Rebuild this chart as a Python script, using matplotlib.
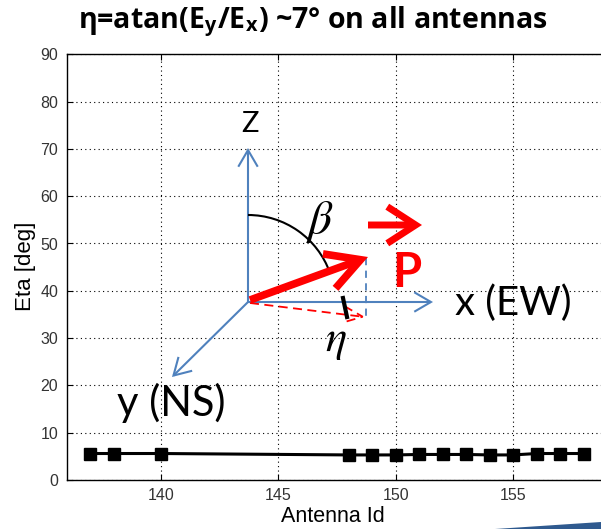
import matplotlib
matplotlib.use("Agg")
import matplotlib.pyplot as plt
from matplotlib.patches import Arc, FancyArrowPatch, Polygon
from matplotlib.transforms import Affine2D

plt.rcParams["mathtext.fontset"] = "stix"

# antenna ids and measured eta angle
antenna_id = [137, 138, 140, 148, 149, 150, 151, 152, 153, 154, 155, 156, 157, 158]
eta_deg = [5.6, 5.6, 5.6, 5.3, 5.3, 5.3, 5.4, 5.4, 5.4, 5.3, 5.3, 5.6, 5.6, 5.6]

x_ticks = [140, 145, 150, 155]
y_ticks = [0, 10, 20, 30, 40, 50, 60, 70, 80, 90]

W, H = 601, 529
fig = plt.figure(figsize=(W / 100, H / 100), dpi=100)

# axes run past the right edge of the figure
left, top, bottom = 66.7, 54.3, 480.0
right = left + 24 * 23.5
ax = fig.add_axes([left / W, 1 - bottom / H, (right - left) / W, (bottom - top) / H])

ax.plot(antenna_id, eta_deg, color="black", lw=2.2,
        marker="s", markersize=9, markerfacecolor="black", markeredgecolor="black")

ax.set_xlim(136, 160)
ax.set_ylim(0, 90)
ax.set_xticks(x_ticks)
ax.set_yticks(y_ticks)
ax.grid(True, color="black", linestyle=(0, (1, 3)), lw=0.8)
ax.tick_params(direction="in", length=4, top=True, right=True,
               labelsize=11.5, labelcolor="#333333", pad=6)
for lab in ax.get_xticklabels() + ax.get_yticklabels():
    lab.set_family(["Liberation Sans", "DejaVu Sans"])
for s in ax.spines.values():
    s.set_linewidth(1.0)

fig.text(333 / W, 1 - 517 / H, "Antenna Id", ha="center", va="center",
         fontsize=15.5, family="Liberation Sans")
fig.text(25 / W, 1 - 266 / H, "Eta [deg]", ha="center", va="center",
         rotation=90, fontsize=16, family="Liberation Sans")

fig.text(313 / W, 1 - 22 / H,
         r"η=atan(E$_\mathregular{y}$/E$_\mathregular{x}$) ~7° on all antennas",
         ha="center", va="center", fontsize=20.5, fontweight="bold",
         family=["Open Sans", "DejaVu Sans"])

# sketch of the polarisation geometry, in pixel units from the top-left
px = Affine2D().scale(1 / W, -1 / H).translate(0, 1) + fig.transFigure
blue = "#4f81bd"
red = "#ff0000"


def arrow(p0, p1, color, lw, style, ls="-", ms=20):
    a = FancyArrowPatch(p0, p1, transform=px, arrowstyle=style, color=color,
                        lw=lw, linestyle=ls, mutation_scale=ms,
                        shrinkA=0, shrinkB=0, joinstyle="miter", capstyle="butt")
    fig.add_artist(a)


origin = (248, 302)
arrow(origin, (248, 148), blue, 1.5, "->,head_length=0.6,head_width=0.35")
arrow(origin, (433, 302), blue, 1.5, "->,head_length=0.6,head_width=0.35")
arrow(origin, (172, 377), blue, 1.5, "->,head_length=0.6,head_width=0.35")

fig.add_artist(Arc(origin, 174, 174, theta1=-90, theta2=-20, transform=px,
                   color="black", lw=1.5))

arrow((366, 258), (366, 318), blue, 1.3, "-", ls=(0, (4, 3)))
arrow((250, 303), (365, 317), red, 1.3, "->,head_length=0.7,head_width=0.3", ls=(0, (5, 3)))
arrow((250, 300), (368, 257), red, 5.5, "->,head_length=1.0,head_width=0.55", ms=24)
arrow((368, 225), (422, 225), red, 5, "->,head_length=0.85,head_width=0.55", ms=24)

fig.add_artist(plt.Line2D([343, 347], [298, 317], transform=px, color="black", lw=3))

fig.text(250, 124, "Z", transform=px, ha="center", va="center",
         fontsize=21, family="Lato")
fig.text(320, 222, r"$\beta$", transform=px, ha="center", va="center", fontsize=34)
fig.text(336, 340, r"$\eta$", transform=px, ha="center", va="center", fontsize=32)
fig.text(407, 273, "P", transform=px, ha="center", va="center",
         fontsize=34, fontweight="bold", color=red, family="Lato")
fig.text(513, 303, "x (EW)", transform=px, ha="center", va="center",
         fontsize=29, family="Lato")
fig.text(171, 403, "y (NS)", transform=px, ha="center", va="center",
         fontsize=30, family="Lato")

# slide decoration at the bottom right
fig.add_artist(Polygon([(495, 529), (601, 522), (601, 529)], closed=True,
                       transform=px, color="#2f5a8f", lw=0))

fig.savefig("out.png", dpi=100)
